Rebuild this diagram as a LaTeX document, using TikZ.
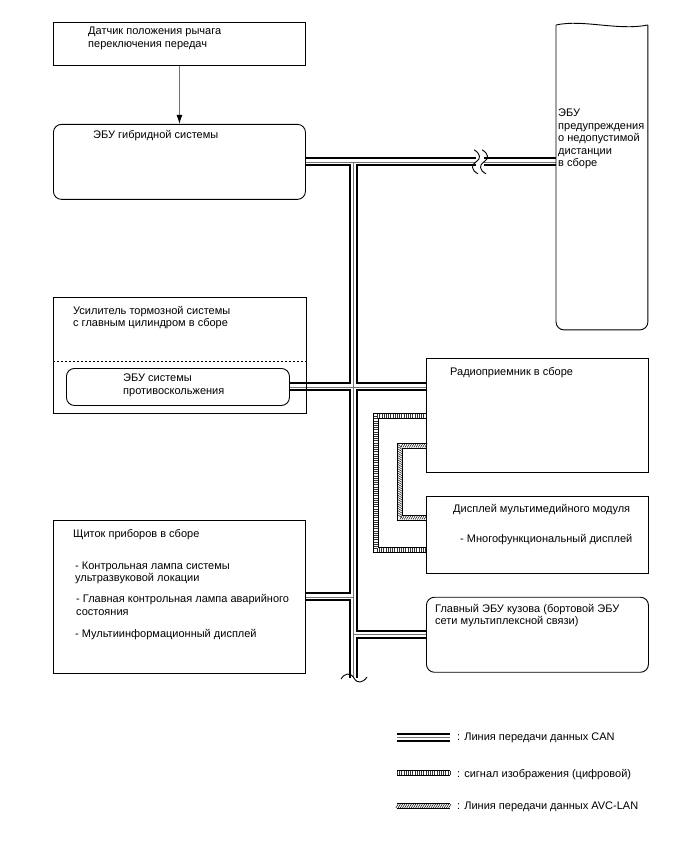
\documentclass[tikz,border=0pt]{standalone}
\usepackage{fontspec}
\setmainfont{Liberation Sans}
\usepackage{tikz}
\usetikzlibrary{arrows.meta,positioning,calc,decorations.markings,backgrounds}

\begin{document}
\begin{tikzpicture}[
  x=1pt, y=-1pt,
  node distance=23pt,
  box/.style={draw, line width=0.9pt, anchor=north west, inner sep=0pt},
  rbox/.style={box, rounded corners=8pt},
  txt/.style={anchor=north west, inner sep=0pt, align=left, font=\fontsize{11}{12.5}\selectfont},
  arr/.style={-{Latex[length=9pt, width=6pt, color=black]}, draw=black!55, line width=0.9pt},
  can/.style={line width=9pt, postaction={draw=white, line width=5pt}, postaction={draw=black!55, line width=0.6pt}},
  vid/.style={line width=6pt, line join=miter, postaction={draw=white, line width=4pt},
    postaction={draw=black!80, line width=4pt, dash pattern=on 0.5pt off 1.7pt}},
  avc/.style={line width=6pt, line join=miter, postaction={draw=white, line width=4pt},
    postaction={decorate, decoration={markings, mark=between positions 0 and 1 step 2.2pt
      with {\draw[black, line width=0.5pt] (-1.2pt,-2pt) -- (1.2pt,2pt);}}}},
  brk/.style={line width=0.9pt}
]
  \useasboundingbox (0,0) rectangle (688,852);

  % left column
  \node[box, minimum width=252, minimum height=43] (sensor) at (53,22) {};
  \node[rbox, minimum width=252, minimum height=75, below=58pt of sensor] (hyb) {};
  \node[box, minimum width=253, minimum height=116] (brake) at (53,297) {};
  \node[rbox, minimum width=223, minimum height=37] (abs) at (66,368) {};
  \node[box, minimum width=252, minimum height=153] (cluster) at (53,520) {};

  % right column
  \node[box, inner sep=0pt, minimum width=91, minimum height=304, draw=none] (dist) at (556,25) {};
  \node[box, minimum width=222, minimum height=114] (radio) at (426,358) {};
  \node[box, minimum width=222, minimum height=77, below=of radio] (disp) {};
  \node[rbox, minimum width=222, minimum height=75, below=of disp] (body) {};

  \draw[line width=0.9pt, rounded corners=8pt] (dist.north west) -- (dist.south west) -- (dist.south east) -- (dist.north east);
  \draw[line width=0.9pt] (dist.north west) .. controls ([shift={(27,-6)}]dist.north west) and ([shift={(-30,6)}]dist.north east) .. (dist.north east);
  \draw[line width=0.9pt, dash pattern=on 2pt off 2pt] (brake.west |- 0,361) -- (brake.east |- 0,361);

  % texts
  \node[txt] (t-sensor) at (88,27) {Датчик положения рычага\\переключения передач};
  \node[txt] (t-hyb) at (93,130.5) {ЭБУ гибридной системы};
  \node[txt] (t-dist) at (558,109) {ЭБУ\\предупреждения\\о недопустимой\\дистанции\\в сборе};
  \node[txt] (t-brake) at (73,306) {Усилитель тормозной системы\\с главным цилиндром в сборе};
  \node[txt] (t-abs) at (123,374) {ЭБУ системы\\противоскольжения};
  \node[txt] (t-cluster) at (73,529) {Щиток приборов в сборе\\[19.5pt]
    \hspace*{2pt}- Контрольная лампа системы\\\hspace*{2pt}ультразвуковой локации\\[8.5pt]
    \hspace*{3pt}- Главная контрольная лампа аварийного\\\hspace*{3pt}состояния\\[10pt]
    \hspace*{2pt}- Мультиинформационный дисплей};
  \node[txt] (t-radio) at (450,367) {Радиоприемник в сборе};
  \node[txt] (t-disp) at (453,504) {Дисплей мультимедийного модуля\\[18pt]\hspace*{7pt}- Многофункциональный дисплей};
  \node[txt] (t-body) at (435,604) {Главный ЭБУ кузова (бортовой ЭБУ\\сети мультиплексной связи)};

  % legend
  \node[txt] (lg-can) at (457,733) {: Линия передачи данных CAN};
  \node[txt] (lg-vid) at (457,769) {: сигнал изображения (цифровой)};
  \node[txt] (lg-avc) at (457,802) {: Линия передачи данных AVC-LAN};

  \coordinate (bustop) at (hyb.east -| 353,0);
  \coordinate (busend) at (353,678);
  \coordinate (brkL) at (hyb.east -| 476,0);
  \coordinate (brkR) at (hyb.east -| 484,0);

  \begin{scope}[on background layer]
    \draw[arr] (sensor) -- (hyb);
    % CAN bus
    \draw[can] (hyb.east) -- (brkL) (brkR) -- (hyb.east -| dist.west)
      (bustop) -- (busend)
      (abs.east) -- (abs.east -| radio.west)
      (cluster.east) -- (cluster.east -| bustop)
      (body.west -| bustop) -- (body.west);
    % video and AVC-LAN
    \draw[vid] (radio.west |- 0,415.5) -| (376,549.5) -- (disp.west |- 0,549.5);
    \draw[avc] (radio.west |- 0,445.5) -| (400,517.5) -- (disp.west |- 0,517.5);
  \end{scope}

  % breaks
  \foreach \p in {brkL,brkR}
    \draw[brk] ([shift={(-2,-12)}]\p) .. controls ([shift={(5,-8)}]\p) and ([shift={(5,-3)}]\p) .. (\p)
      .. controls ([shift={(-5,3)}]\p) and ([shift={(-5,8)}]\p) .. ([shift={(2,12)}]\p);
  \draw[brk] ([shift={(-12,1)}]busend) .. controls ([shift={(-8,-5)}]busend) and ([shift={(-3,-6)}]busend) .. ([shift={(1,0)}]busend)
    .. controls ([shift={(4,6)}]busend) and ([shift={(10,5)}]busend) .. ([shift={(14,-1)}]busend);

  % legend keys
  \draw[can] (397,737) -- (450,737);
  \draw[vid] (397,773) -- (450,773);
  \draw[avc] (397,806) -- (450,806);
\end{tikzpicture}
\end{document}
